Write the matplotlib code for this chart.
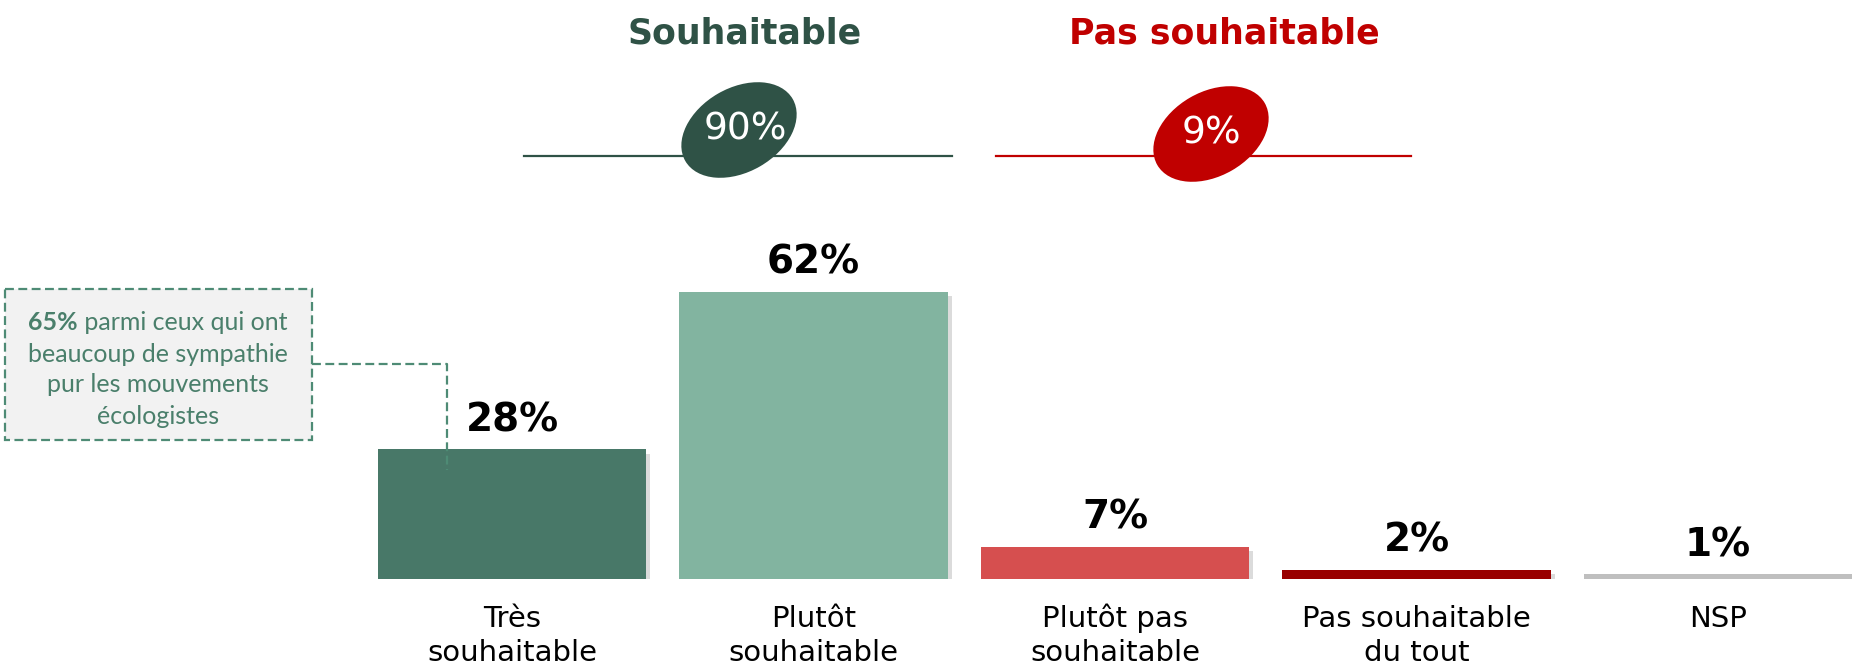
import matplotlib
matplotlib.use("Agg")
import matplotlib.pyplot as plt
from matplotlib.patches import Ellipse, Rectangle
import matplotlib.patheffects as pe

# data
categories = ["Très\nsouhaitable", "Plutôt\nsouhaitable", "Plutôt pas\nsouhaitable",
              "Pas souhaitable\ndu tout", "NSP"]
values = [28, 62, 7, 2, 1]
bar_colors = ["#487868", "#82B4A0", "#D64F4F", "#990000", "#BFBFBF"]

groups = ["Souhaitable", "Pas souhaitable"]
group_totals = [90, 9]
group_colors = ["#2F5246", "#C00000"]

note_value = 65
note_text = ["parmi ceux qui ont", "beaucoup de sympathie", "pur les mouvements", "écologistes"]

W, H = 1852, 665
fig = plt.figure(figsize=(W / 100, H / 100), dpi=100)

# bar axes: baseline at y=579px, 4.63 px per point of %
ax = fig.add_axes([0, 86 / H, 1, 463 / H])
ax.set_xlim(-512 / 301.5, (W - 512) / 301.5)
ax.set_ylim(0, 100)
ax.axis("off")

xs = list(range(len(values)))
bars = ax.bar(xs, values, width=0.89, color=bar_colors, zorder=2)
for b in bars:
    b.set_path_effects([pe.SimplePatchShadow(offset=(3, -3), shadow_rgbFace="#999999", alpha=0.35),
                        pe.Normal()])

for x, v in zip(xs, values):
    ax.annotate(f"{v}%", (x, v), xytext=(0, 13), textcoords="offset points",
                ha="center", va="baseline", fontsize=28, fontweight="bold", color="black")
    # category label, one line at a time
    for k, line in enumerate(categories[x].split("\n")):
        ax.annotate(line, (x, 0), xytext=(0, -34.6 - 24.5 * k), textcoords="offset points",
                    ha="center", va="baseline", fontsize=21, color="black")

# overlay axes in pixel coordinates for the header and the note
ov = fig.add_axes([0, 0, 1, 1])
ov.set_xlim(0, W)
ov.set_ylim(H, 0)
ov.axis("off")
ov.patch.set_alpha(0)

head_x = [745, 1224]
line_spans = [(524, 952), (996, 1411)]
ell_centers = [(739, 130), (1211, 134)]
label_x = [745, 1211]
for i in range(2):
    ov.text(head_x[i], 33, groups[i], ha="center", va="center", fontsize=25,
            fontweight="bold", color=group_colors[i])
    ov.plot(line_spans[i], [156, 156], color=group_colors[i], lw=1.6, zorder=2)
    cx, cy = ell_centers[i]
    ov.add_patch(Ellipse((cx, cy), 124, 84, angle=-30, facecolor=group_colors[i],
                         edgecolor="none", zorder=3))
    ov.text(label_x[i], cy, f"{group_totals[i]}%", ha="center", va="center",
            fontsize=27, color="white", zorder=4)

# note box
note_color = "#4E8B75"
txt_color = "#4A7F6B"
ov.add_patch(Rectangle((5, 289), 307, 151, facecolor="#F2F2F2", edgecolor=note_color,
                       lw=1.6, ls=(0, (4, 2)), zorder=2))
ov.plot([312, 447, 447], [364, 364, 470], color=note_color, lw=1.6, ls=(0, (4, 2)), zorder=5)

cx = 158
line_y = [323, 354, 385, 416]
fs = 18
renderer = fig.canvas.get_renderer()
t1 = ov.text(0, line_y[0], f"{note_value}%", ha="left", va="center", fontsize=fs,
             fontweight="bold", color=txt_color, family="Lato", zorder=3)
t2 = ov.text(0, line_y[0], " " + note_text[0], ha="left", va="center", fontsize=fs,
             color=txt_color, family="Lato", zorder=3)
w1 = t1.get_window_extent(renderer).width
w2 = t2.get_window_extent(renderer).width
start = cx - (w1 + w2) / 2
t1.set_x(start)
t2.set_x(start + w1)
for y, s in zip(line_y[1:], note_text[1:]):
    ov.text(cx, y, s, ha="center", va="center", fontsize=fs, color=txt_color,
            family="Lato", zorder=3)

fig.savefig("out.png", dpi=100)
